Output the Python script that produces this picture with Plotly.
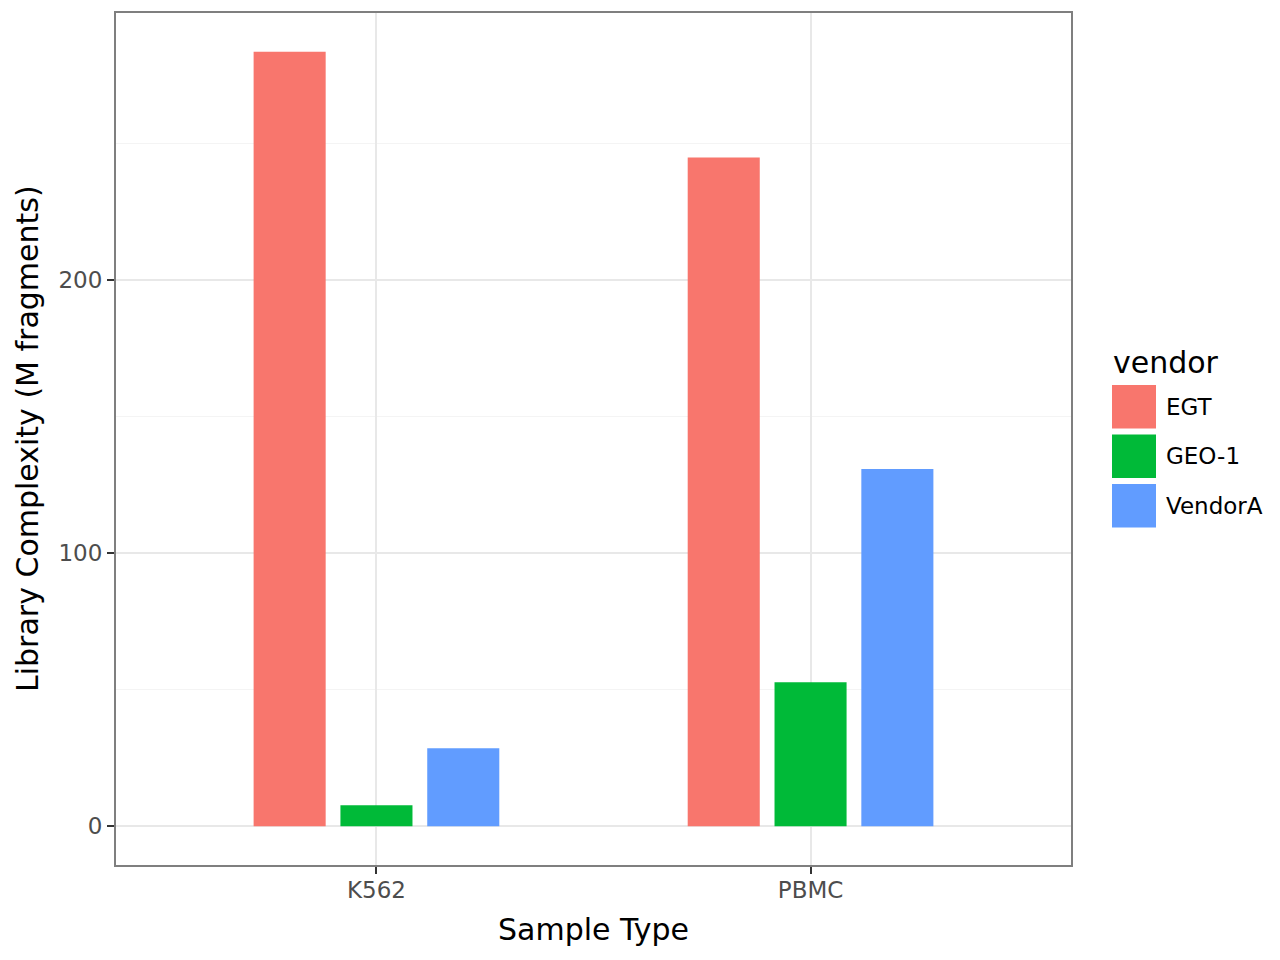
import plotly.graph_objects as go

# ---- data ----
sample_types = ["K562", "PBMC"]
vendors = ["EGT", "GEO-1", "VendorA"]
egt_values = [283.8, 245.0]
geo1_values = [7.7, 52.8]
vendora_values = [28.6, 130.9]
vendor_colors = ["#F8766D", "#00BA38", "#619CFF"]
y_tick_values = [0, 100, 200]
y_tick_labels = ["0", "100", "200"]

series = [egt_values, geo1_values, vendora_values]

# ---- layout geometry (pixels) ----
W, H = 1280, 960
L, R, T, B = 116, 209, 13, 95
PW = W - L - R
PH = H - T - B


def px2x(px):
    return (px - L) / PW


def py2y(py):
    return (H - B - py) / PH


FONT = "DejaVu Sans"

fig = go.Figure()
for name, vals, col in zip(vendors, series, vendor_colors):
    fig.add_trace(go.Bar(
        x=sample_types, y=vals, name=name,
        marker=dict(color=col, line=dict(width=0)),
        showlegend=False,
    ))

ymax = max(max(s) for s in series)
ymin = 0
span = ymax - ymin
yrange = [ymin - 0.05 * span, ymax + 0.05 * span]

fig.update_layout(
    width=W, height=H,
    margin=dict(l=L, r=R, t=T, b=B, pad=0),
    paper_bgcolor="white", plot_bgcolor="white",
    barmode="group", bargap=0.4, bargroupgap=0.17,
    font=dict(family=FONT, size=24, color="#4D4D4D"),
    showlegend=False,
)

fig.update_xaxes(
    type="category", range=[-0.6, 1.6],
    showgrid=True, gridcolor="#E8E8E8", gridwidth=2,
    showline=True, mirror=True, linecolor="#7F7F7F", linewidth=2,
    ticks="outside", ticklen=7, tickwidth=2, tickcolor="#333333",
    tickfont=dict(family=FONT, size=23, color="#4D4D4D"),
    ticklabelstandoff=-4,
    zeroline=False,
)
fig.update_yaxes(
    range=yrange,
    tickvals=y_tick_values, ticktext=y_tick_labels,
    showgrid=True, gridcolor="#E8E8E8", gridwidth=2,
    minor=dict(dtick=50, tick0=0, showgrid=True, gridcolor="#F4F4F4", gridwidth=1, ticks=""),
    showline=True, mirror=True, linecolor="#7F7F7F", linewidth=2,
    ticks="outside", ticklen=7, tickwidth=2, tickcolor="#333333",
    tickfont=dict(family=FONT, size=23, color="#4D4D4D"),
    zeroline=False,
)

annotations = []
shapes = []
# axis titles
annotations.append(dict(
    text="Sample Type", x=px2x(593), y=py2y(929), xref="paper", yref="paper",
    xanchor="center", yanchor="middle", showarrow=False,
    font=dict(family=FONT, size=30, color="black"),
))
annotations.append(dict(
    text="Library Complexity (M fragments)", x=px2x(27), y=py2y(439),
    xref="paper", yref="paper", xanchor="center", yanchor="middle",
    textangle=-90, showarrow=False,
    font=dict(family=FONT, size=30, color="black"),
))
# legend
annotations.append(dict(
    text="vendor", x=px2x(1111), y=py2y(362), xref="paper", yref="paper",
    xanchor="left", yanchor="middle", showarrow=False,
    font=dict(family=FONT, size=30, color="black"),
))
for i, (name, col) in enumerate(zip(vendors, vendor_colors)):
    top = 385 + i * 49.5
    bot = top + 43.5
    shapes.append(dict(
        type="rect", xref="paper", yref="paper",
        x0=px2x(1112), x1=px2x(1156), y0=py2y(bot), y1=py2y(top),
        fillcolor=col, line=dict(width=0),
    ))
    annotations.append(dict(
        text=name, x=px2x(1164), y=py2y((top + bot) / 2), xref="paper", yref="paper",
        xanchor="left", yanchor="middle", showarrow=False,
        font=dict(family=FONT, size=23, color="black"),
    ))

fig.update_layout(annotations=annotations, shapes=shapes)
fig.write_html(
    "out.html",
    config={"displayModeBar": False},
    post_script="document.body.style.margin='0';document.body.style.padding='0';",
)
